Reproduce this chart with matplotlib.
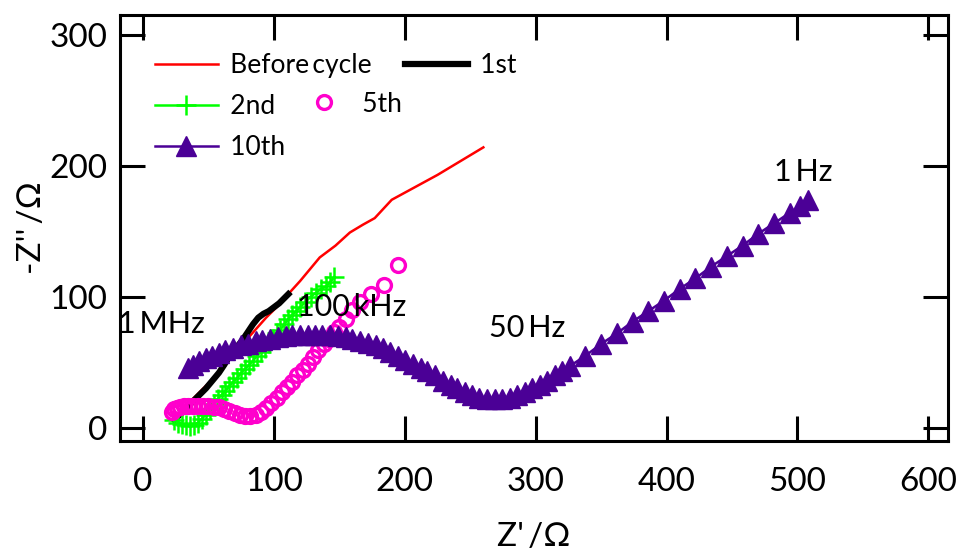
import numpy as np
import matplotlib
matplotlib.use('Agg')
import matplotlib.pyplot as plt

plt.rcParams['font.family'] = ['Lato', 'DejaVu Sans']

# Nyquist data, Z' and -Z'' in ohm
before_x = [24, 30, 36, 42, 48, 54, 60, 66, 72, 78, 86, 94, 102, 110, 120, 135, 147, 158, 168, 177, 190, 225, 260]
before_y = [8, 14, 20, 26, 32, 38, 45, 52, 59, 66, 75, 84, 92, 101, 112, 130, 139, 149, 155, 160, 174, 193, 214]

first_x = [24, 28, 33, 38, 43, 48, 53, 58, 62, 65, 68, 72, 76, 80, 84, 88, 92, 96, 100, 104, 108, 111]
first_y = [6, 10, 15, 20, 25, 30, 36, 42, 48, 53, 57, 62, 67, 73, 79, 84, 87, 89, 92, 95, 99, 102]

second_x = [24, 27, 30, 33, 36, 39, 42, 45, 48, 51, 54, 57, 60, 63, 66, 69, 72, 75, 78, 81, 84, 87, 90,
            93, 96, 99, 102, 105, 108, 111, 114, 117, 120, 124, 128, 132, 136, 140, 143, 146]
second_y = [6, 4, 3, 2, 1, 2, 4, 7, 10, 14, 18, 22, 25, 28, 32, 35, 38, 42, 45, 48, 51, 55, 58,
            61, 65, 68, 72, 75, 79, 83, 86, 89, 92, 96, 100, 103, 106, 108, 111, 115]

fifth_x = [22, 24, 26, 28, 31, 34, 38, 42, 46, 50, 54, 58, 62, 66, 70, 74, 78, 82, 86, 90, 94, 98,
           102, 106, 110, 114, 118, 122, 126, 130, 134, 138, 142, 146, 150, 155, 160, 166, 174, 184, 195]
fifth_y = [12, 14, 15, 16, 16.5, 17, 17, 17, 17, 16.5, 16, 15.5, 14.5, 13, 11.5, 10, 9, 9, 10, 12, 15, 19,
           23, 27, 31, 35, 40, 44, 49, 54, 59, 64, 68, 73, 77, 83, 90, 96, 102, 109, 124]

tenth_x = [34, 38, 43, 48, 53, 58, 63, 69, 75, 80, 86, 91, 97, 103, 109, 114, 120, 126, 131, 137, 143,
           149, 155, 160, 166, 172, 178, 183, 189, 195, 200, 206, 212, 217, 223, 229, 235, 240, 246,
           251, 257, 263, 269, 274, 280, 286, 292, 297, 303, 309, 315, 320, 326, 338, 350, 362, 374,
           386, 398, 410, 422, 434, 446, 458, 470, 482, 494, 502, 508]
tenth_y = [46, 48, 51, 53, 55, 57, 59, 61, 63, 64, 66, 67, 68, 69, 70, 70.5, 71, 71, 71, 71, 71,
           70, 69, 68, 66, 65, 63, 61, 58, 55, 52, 49, 46, 43, 40, 36, 33, 30, 27,
           25, 23, 22, 22, 22, 23, 25, 27, 30, 33, 36, 40, 43, 47, 55, 64, 72, 81,
           89, 97, 106, 114, 123, 131, 139, 148, 156, 164, 169, 174]

x_ticks = [0, 100, 200, 300, 400, 500, 600]
y_ticks = [0, 100, 200, 300]

fig = plt.figure(figsize=(9.6, 5.56), dpi=100)
ax = fig.add_axes([0.125, 0.207, 0.8625, 0.766])

l_before, = ax.plot(before_x, before_y, color='#ff0000', lw=1.8, label='\u2009Before\u2009cycle\u2009')
l_first, = ax.plot(first_x, first_y, color='black', lw=4.5, label='\u20091st')
l_second, = ax.plot(second_x, second_y, color='#00ff00', lw=1.8, marker='+', ms=14, mew=1.8,
                    label='\u20092nd')
l_fifth, = ax.plot(fifth_x, fifth_y, ls='none', marker='o', ms=10, mfc='none', mec='#ff00cc', mew=2.4,
                   label='\u20095th')
l_tenth, = ax.plot(tenth_x, tenth_y, color='#4b0096', lw=1.8, marker='^', ms=14, mec='#4b0096',
                   label='\u200910th')

ax.set_xlim(-17.6, 615)
ax.set_ylim(-10, 315)
ax.set_xticks(x_ticks)
ax.set_yticks(y_ticks)
ax.tick_params(direction='in', length=18, width=2.2, top=True, right=True, labelsize=24, pad=9)
ax.tick_params(axis='x', pad=19)
for s in ax.spines.values():
    s.set_linewidth(2.2)

ax.set_xlabel("Z'\u2009/\u2126", fontsize=24, labelpad=18)
ax.set_ylabel("-Z''\u2009/\u2126", fontsize=24, labelpad=2)

# frequency markers
ax.text(-19, 79, '1\u2009MHz', fontsize=22, va='center')
ax.text(118, 92, '100\u2009kHz', fontsize=22, va='center')
ax.text(264, 76, '50\u2009Hz', fontsize=22, va='center')
ax.text(482, 195, '1\u2009Hz', fontsize=22, va='center')

leg_kw = dict(frameon=False, fontsize=19, handletextpad=0.35, borderpad=0,
              borderaxespad=0, labelspacing=0.6)
leg1 = ax.legend(handles=[l_before, l_second, l_tenth], loc='upper left', handlelength=2.4,
                 bbox_to_anchor=(0.042, 0.91), **leg_kw)
ax.add_artist(leg1)
leg2 = ax.legend(handles=[l_first], loc='upper left', handlelength=2.4,
                 bbox_to_anchor=(0.344, 0.91), **leg_kw)
ax.add_artist(leg2)
ax.legend(handles=[l_fifth], loc='upper left', handlelength=2.0,
          bbox_to_anchor=(0.214, 0.82), **leg_kw)

fig.savefig('out.png', dpi=100)
